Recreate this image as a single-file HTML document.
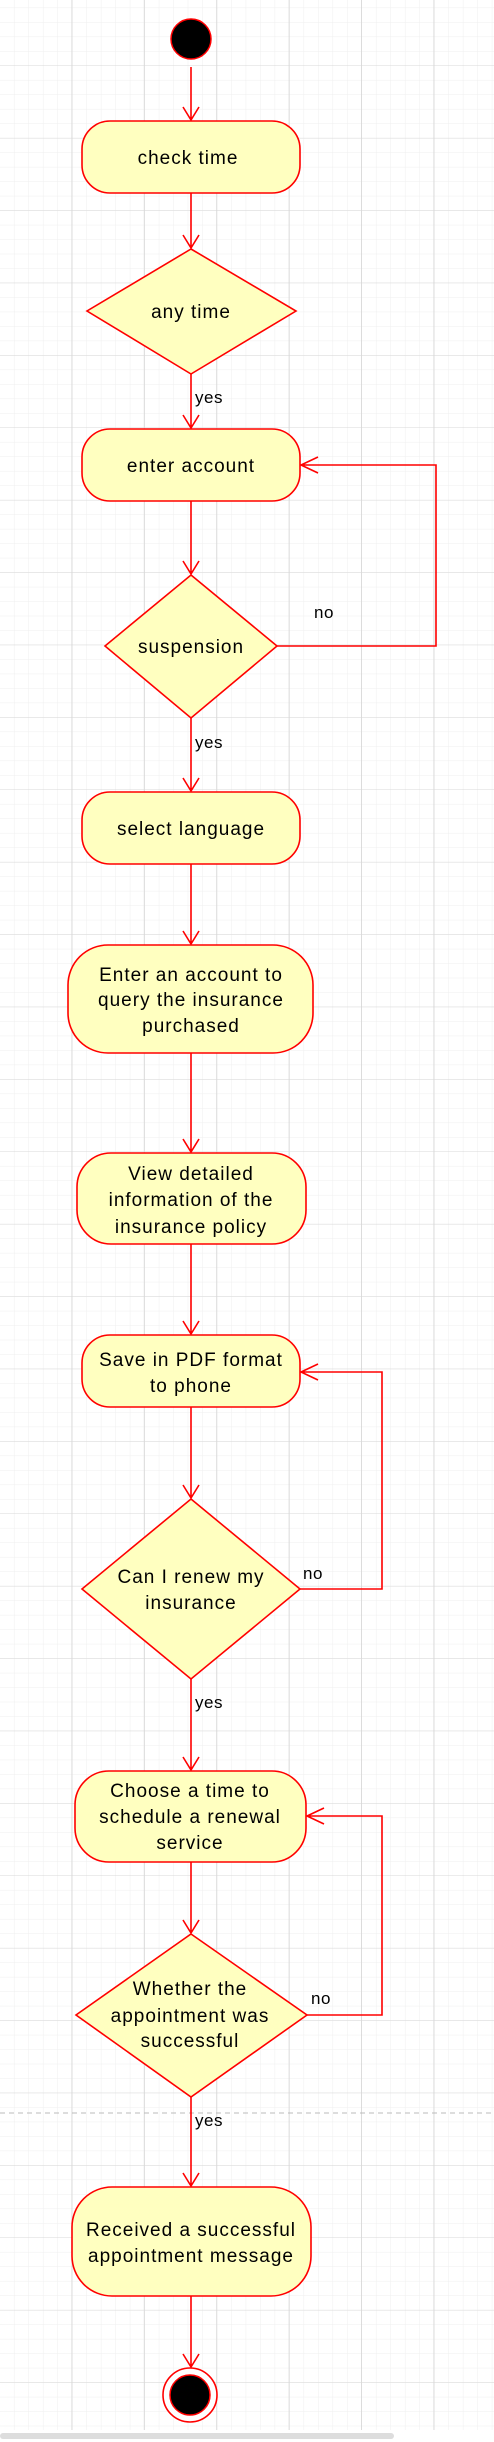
<!DOCTYPE html>
<html><head><meta charset="utf-8"><style>
html,body{margin:0;padding:0;background:#fff;}
svg{display:block;}
text{font-family:"Liberation Sans",Arial,sans-serif;font-size:19px;fill:#000;text-anchor:middle;letter-spacing:1px;}
.l{font-size:17px;text-anchor:start;letter-spacing:0.5px;}
</style></head><body>
<svg width="494" height="2442" viewBox="0 0 494 2442" xmlns="http://www.w3.org/2000/svg">
<defs>
<pattern id="minor" x="0" y="-6.4" width="14.48" height="14.48" patternUnits="userSpaceOnUse">
<path d="M14.48 0V14.48M0 14.48H14.48" stroke="#efefef" stroke-width="1" fill="none"/>
</pattern>
<pattern id="major" x="0" y="-6.4" width="72.4" height="72.4" patternUnits="userSpaceOnUse">
<path d="M72 0V72.4M0 72.4H72.4" stroke="#d8d8d8" stroke-width="1" fill="none"/>
</pattern>
</defs>
<rect x="0" y="0" width="494" height="2430" fill="url(#minor)"/>
<rect x="0" y="0" width="494" height="2430" fill="url(#major)"/>
<line x1="0" y1="2113" x2="494" y2="2113" stroke="#bbb" stroke-dasharray="5,4"/>
<rect x="0" y="2433" width="394" height="6" rx="3" fill="#ddd"/>

<g stroke="#ff0000" stroke-width="1.6" fill="none">
<path d="M191 67V120M183 107L191 120L199 107"/>
<path d="M191 193V248M183 235L191 248L199 235"/>
<path d="M191 374V428M183 415L191 428L199 415"/>
<path d="M191 501V574M183 561L191 574L199 561"/>
<path d="M191 718V791M183 778L191 791L199 778"/>
<path d="M191 864V944M183 931L191 944L199 931"/>
<path d="M191 1053V1152M183 1139L191 1152L199 1139"/>
<path d="M191 1244V1334M183 1321L191 1334L199 1321"/>
<path d="M191 1407V1498M183 1485L191 1498L199 1485"/>
<path d="M191 1679V1770M183 1757L191 1770L199 1757"/>
<path d="M191 1862V1933M183 1920L191 1933L199 1920"/>
<path d="M191 2097V2186M183 2173L191 2186L199 2173"/>
<path d="M191 2296V2367M183 2354L191 2367L199 2354"/>
<path d="M277 646H436V465H301M318 457L301 465L318 473"/>
<path d="M300 1589H382V1372H301M318 1364L301 1372L318 1380"/>
<path d="M307 2015H382V1816H307M324 1808L307 1816L324 1824"/>
</g>

<circle cx="191" cy="39" r="20" fill="#000" stroke="#f00" stroke-width="1.5"/>

<g fill="#ffffc0" stroke="#ff0000" stroke-width="1.6">
<rect x="82" y="121" width="218" height="72" rx="28"/>
<polygon points="191,249 296,311 191,374 87,311"/>
<rect x="82" y="429" width="218" height="72" rx="28"/>
<polygon points="191,575 277,646 191,718 105,646"/>
<rect x="82" y="792" width="218" height="72" rx="28"/>
<rect x="68" y="945" width="245" height="108" rx="40"/>
<rect x="77" y="1153" width="229" height="91" rx="34"/>
<rect x="82" y="1335" width="218" height="72" rx="28"/>
<polygon points="191,1499 300,1589 191,1679 82,1589"/>
<rect x="75" y="1771" width="231" height="91" rx="34"/>
<polygon points="191,1934 307,2015 191,2097 76,2015"/>
<rect x="72" y="2187" width="239" height="109" rx="40"/>
</g>

<circle cx="190" cy="2395" r="27" fill="#fff" stroke="#f00" stroke-width="1.6"/>
<circle cx="190" cy="2395" r="20" fill="#000" stroke="#f00" stroke-width="1.5"/>

<text x="188" y="164">check time</text>
<text x="191" y="318">any time</text>
<text x="191" y="472">enter account</text>
<text x="191" y="653">suspension</text>
<text x="191" y="835">select language</text>
<text x="191" y="981">Enter an account to</text>
<text x="191" y="1006">query the insurance</text>
<text x="191" y="1032">purchased</text>
<text x="191" y="1180">View detailed</text>
<text x="191" y="1206">information of the</text>
<text x="191" y="1233">insurance policy</text>
<text x="191" y="1366">Save in PDF format</text>
<text x="191" y="1392">to phone</text>
<text x="191" y="1583">Can I renew my</text>
<text x="191" y="1609">insurance</text>
<text x="190" y="1797">Choose a time to</text>
<text x="190" y="1823">schedule a renewal</text>
<text x="190" y="1849">service</text>
<text x="190" y="1995">Whether the</text>
<text x="190" y="2022">appointment was</text>
<text x="190" y="2047">successful</text>
<text x="191" y="2236">Received a successful</text>
<text x="191" y="2262">appointment message</text>

<text class="l" x="195" y="403">yes</text>
<text class="l" x="195" y="748">yes</text>
<text class="l" x="195" y="1708">yes</text>
<text class="l" x="195" y="2126">yes</text>
<text class="l" x="314" y="618">no</text>
<text class="l" x="303" y="1579">no</text>
<text class="l" x="311" y="2004">no</text>
</svg>
</body></html>
